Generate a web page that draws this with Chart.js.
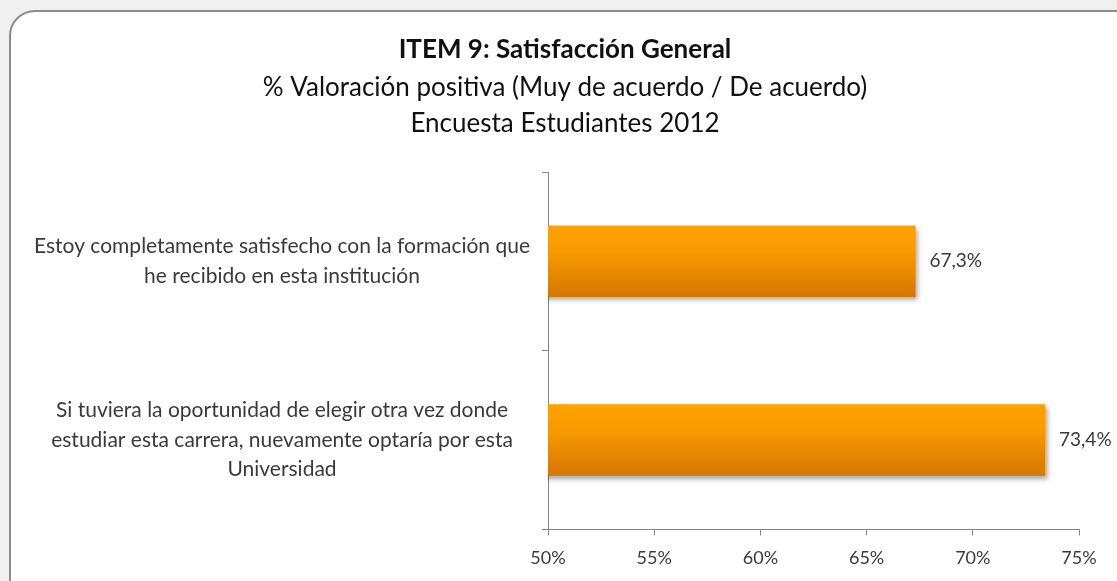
<!DOCTYPE html>
<html>
<head>
<meta charset="utf-8">
<script src="https://cdn.jsdelivr.net/npm/chart.js@4.4.0/dist/chart.umd.min.js"></script>
<style>
    html, body { margin: 0; padding: 0; background: #f0f0f0; }
    body { width: 1117px; height: 581px; overflow: hidden; position: relative; }
    .frame {
        position: absolute; left: 9px; top: 10px; width: 1132px; height: 600px;
        box-sizing: border-box; border: 2px solid #8c8c8c; border-radius: 26px; background: #fff;
    }
    #satisfaccion { position: absolute; left: 0; top: 0; }
</style>
</head>
<body>
<div class="frame"></div>
<canvas id="satisfaccion" width="1117" height="581"></canvas>
<script>
const categories = [
    ['Estoy completamente satisfecho con la formación que', 'he recibido en esta institución'],
    ['Si tuviera la oportunidad de elegir otra vez donde', 'estudiar esta carrera, nuevamente optaría por esta', 'Universidad'],
];
const values = [67.3, 73.4];
const axisMin = 50;
const axisMax = 75;
const axisStep = 5;

const FONT = 'Lato, "Open Sans", sans-serif';
const AXIS_COLOR = '#868686';
const TEXT_COLOR = '#3a3a3a';
const BAR_PCT = 0.5;
const CAT_PCT = 0.8;
const PAD_LEFT = 51;

// vertical orange gradient per bar, light on top, darker at the bottom
function barGradient(c) {
    const chart = c.chart;
    const ys = chart.scales.y;
    if (c.type !== 'data' || !ys) return '#f59300';
    const center = ys.getPixelForValue(c.dataIndex);
    const half = (ys.height / categories.length) * BAR_PCT * CAT_PCT / 2;
    if (!isFinite(center) || !isFinite(half) || half <= 0) return '#f59300';
    const g = chart.ctx.createLinearGradient(0, center - half, 0, center + half);
    g.addColorStop(0, '#ffa200');
    g.addColorStop(0.35, '#f99b00');
    g.addColorStop(1, '#d47700');
    return g;
}

// the left padding only centres the titles; let the category labels use it
const labelRoom = {
    id: 'labelRoom',
    afterLayout(chart) {
        chart.scales.y.left = 0;
    },
};

const barShadow = {
    id: 'barShadow',
    beforeDatasetsDraw(chart) {
        const ctx = chart.ctx;
        ctx.save();
        ctx.shadowColor = 'rgba(0, 0, 0, 0.35)';
        ctx.shadowBlur = 5;
        ctx.shadowOffsetX = 3;
        ctx.shadowOffsetY = 3;
    },
    afterDatasetsDraw(chart) {
        chart.ctx.restore();
    },
};

const valueLabels = {
    id: 'valueLabels',
    afterDraw(chart) {
        const ctx = chart.ctx;
        const meta = chart.getDatasetMeta(0);
        ctx.save();
        ctx.font = '19px ' + FONT;
        ctx.fillStyle = TEXT_COLOR;
        ctx.textAlign = 'left';
        ctx.textBaseline = 'middle';
        meta.data.forEach((bar, i) => {
            const txt = values[i].toFixed(1).replace('.', ',') + '%';
            ctx.fillText(txt, bar.x + 14, bar.y);
        });
        ctx.restore();
    },
};

new Chart(document.getElementById('satisfaccion'), {
    type: 'bar',
    data: {
        labels: categories,
        datasets: [{
            data: values,
            backgroundColor: barGradient,
            borderWidth: 0,
            barPercentage: BAR_PCT,
            categoryPercentage: CAT_PCT,
        }],
    },
    options: {
        indexAxis: 'y',
        responsive: false,
        animation: false,
        layout: { padding: { top: 20, right: 38, bottom: 0, left: PAD_LEFT } },
        plugins: {
            legend: { display: false },
            tooltip: { enabled: false },
            title: {
                display: true,
                text: 'ITEM 9: Satisfacción General',
                color: '#111',
                font: { family: FONT, size: 26, weight: 'bold', lineHeight: 1.2 },
                padding: { top: 14, bottom: 0 },
            },
            subtitle: {
                display: true,
                text: ['% Valoración positiva (Muy de acuerdo / De acuerdo)', 'Encuesta Estudiantes 2012'],
                color: '#111',
                font: { family: FONT, size: 26, weight: 'normal', lineHeight: 36 / 26 },
                padding: { top: 4.8, bottom: 30 },
            },
        },
        scales: {
            x: {
                type: 'linear',
                min: axisMin,
                max: axisMax,
                ticks: {
                    stepSize: axisStep,
                    callback: v => v + '%',
                    font: { family: FONT, size: 18 },
                    color: TEXT_COLOR,
                    padding: 12,
                },
                grid: { drawOnChartArea: false, tickLength: 6, color: AXIS_COLOR },
                border: { color: AXIS_COLOR, width: 1 },
            },
            y: {
                type: 'category',
                ticks: {
                    crossAlign: 'center',
                    font: { family: FONT, size: 21, lineHeight: 1.4 },
                    color: TEXT_COLOR,
                    padding: 12,
                },
                grid: { drawOnChartArea: false, tickLength: 6, color: AXIS_COLOR, offset: true },
                border: { color: AXIS_COLOR, width: 1 },
                afterFit: scale => { scale.width = 548 - PAD_LEFT; },
            },
        },
    },
    plugins: [labelRoom, barShadow, valueLabels],
});
</script>
</body>
</html>
